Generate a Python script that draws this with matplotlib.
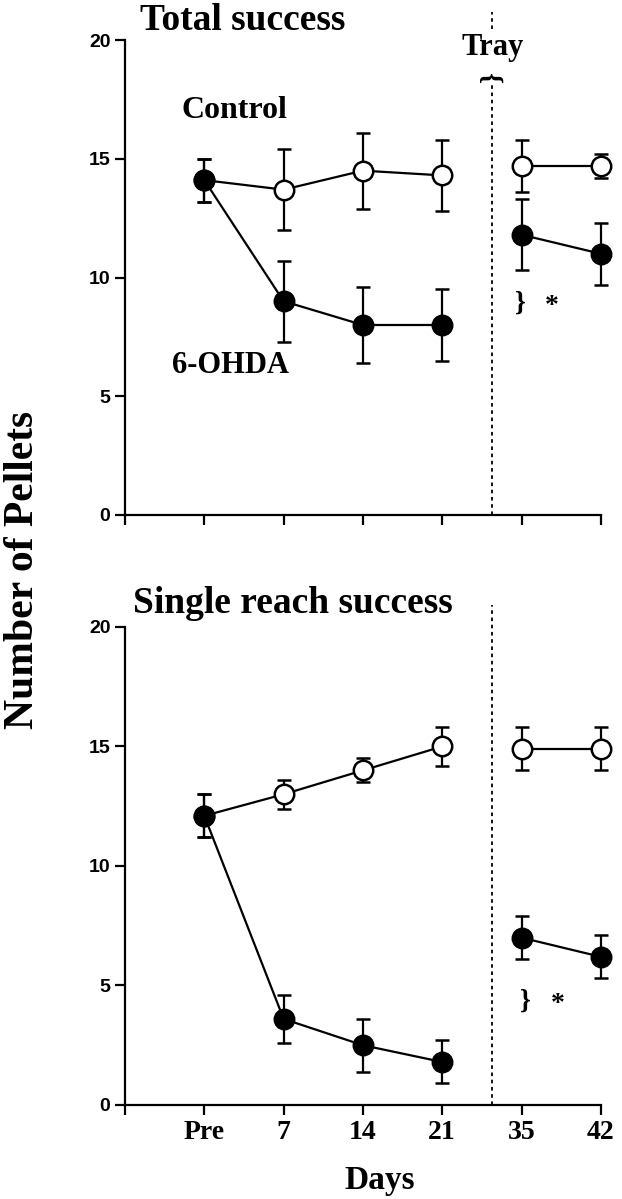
import numpy as np
import matplotlib.pyplot as plt

# x positions on the axis (tick slots 1..6)
days = ["Pre", "7", "14", "21", "35", "42"]
xpos = [1, 2, 3, 4, 5, 6]

# Total success
total_ohda = [14.1, 9.0, 8.0, 8.0, 11.8, 11.0]
total_ohda_err = [0.9, 1.7, 1.6, 1.5, 1.5, 1.3]
total_ctrl = [14.1, 13.7, 14.5, 14.3, 14.7, 14.7]
total_ctrl_err = [0.9, 1.7, 1.6, 1.5, 1.1, 0.5]

# Single reach success
single_ohda = [12.1, 3.6, 2.5, 1.8, 7.0, 6.2]
single_ohda_err = [0.9, 1.0, 1.1, 0.9, 0.9, 0.9]
single_ctrl = [12.1, 13.0, 14.0, 15.0, 14.9, 14.9]
single_ctrl_err = [0.9, 0.6, 0.5, 0.8, 0.9, 0.9]

SERIF = "Liberation Serif"
SANS = "Liberation Sans"
tray_x = 4.63


def draw_series(ax, y, err, filled):
    fc = "black" if filled else "white"
    z = 4 if filled else 3
    for seg in (slice(0, 4), slice(4, 6)):
        ax.errorbar(xpos[seg], y[seg], yerr=err[seg], color="black", lw=1.6,
                    elinewidth=1.6, capsize=5, capthick=1.6, marker="o",
                    markersize=14, markerfacecolor=fc, markeredgecolor="black",
                    markeredgewidth=1.8, zorder=z, clip_on=False)


def style_axes(ax, show_labels):
    ax.set_xlim(0, 6)
    ax.set_ylim(0, 20)
    ax.spines["top"].set_visible(False)
    ax.spines["right"].set_visible(False)
    ax.spines["left"].set_linewidth(1.6)
    ax.spines["bottom"].set_linewidth(1.6)
    ax.set_yticks([0, 5, 10, 15, 20])
    ax.set_xticks(range(0, 7))
    ax.tick_params(direction="out", length=7, width=1.6)
    for t in ax.get_yticklabels():
        t.set_fontfamily(SANS)
        t.set_fontweight("bold")
        t.set_fontsize(14)
    if show_labels:
        ax.set_xticklabels([""] + days, fontfamily=SERIF, fontweight="bold",
                           fontsize=20)
    else:
        ax.set_xticklabels([])


fig = plt.figure(figsize=(6.22, 11.99), dpi=100)
ax1 = fig.add_axes([0.201, 0.5705, 0.765, 0.3961])
ax2 = fig.add_axes([0.201, 0.0784, 0.765, 0.3987])

# top panel
draw_series(ax1, total_ctrl, total_ctrl_err, False)
draw_series(ax1, total_ohda, total_ohda_err, True)
style_axes(ax1, False)
ax1.plot([tray_x, tray_x], [0, 18.1], ls=(0, (2, 2)), color="black", lw=1.3)
ax1.plot([tray_x, tray_x], [20.45, 21.2], ls=(0, (2, 2)), color="black",
         lw=1.3, clip_on=False)
ax1.text(tray_x, 19.37, "Tray", ha="center", va="baseline", fontfamily=SERIF,
         fontweight="bold", fontsize=22)
ax1.text(tray_x, 18.45, "}", ha="center", va="center", rotation=90,
         fontfamily=SERIF, fontweight="bold", fontsize=20)
ax1.text(0.19, 20.42, "Total success", ha="left", va="baseline",
         fontfamily=SERIF, fontweight="bold", fontsize=27, clip_on=False)
ax1.text(0.71, 17.05, "Control", ha="left", va="center", fontfamily=SERIF,
         fontweight="bold", fontsize=23)
ax1.text(0.59, 6.3, "6-OHDA", ha="left", va="center", fontfamily=SERIF,
         fontweight="bold", fontsize=22)
ax1.text(4.98, 8.93, "}", ha="center", va="center", fontfamily=SERIF,
         fontweight="bold", fontsize=20)
ax1.text(5.38, 8.8, "*", ha="center", va="center", fontfamily=SERIF,
         fontweight="bold", fontsize=20)

# bottom panel
draw_series(ax2, single_ctrl, single_ctrl_err, False)
draw_series(ax2, single_ohda, single_ohda_err, True)
style_axes(ax2, True)
ax2.plot([tray_x, tray_x], [0, 20.92], ls=(0, (2, 2)), color="black", lw=1.3,
         clip_on=False)
ax2.text(0.1, 20.59, "Single reach success", ha="left", va="baseline",
         fontfamily=SERIF, fontweight="bold", fontsize=27, clip_on=False)
ax2.text(5.05, 4.35, "}", ha="center", va="center", fontfamily=SERIF,
         fontweight="bold", fontsize=20)
ax2.text(5.46, 4.2, "*", ha="center", va="center", fontfamily=SERIF,
         fontweight="bold", fontsize=20)
ax2.set_xlabel("Days", fontfamily=SERIF, fontweight="bold", fontsize=24,
               labelpad=16)
ax2.xaxis.set_label_coords(0.536, -0.125)

fig.text(0.037, 0.525, "Number of Pellets", rotation=90, ha="center",
         va="center", fontfamily=SERIF, fontweight="bold", fontsize=30)

fig.savefig("out.png", dpi=100)
